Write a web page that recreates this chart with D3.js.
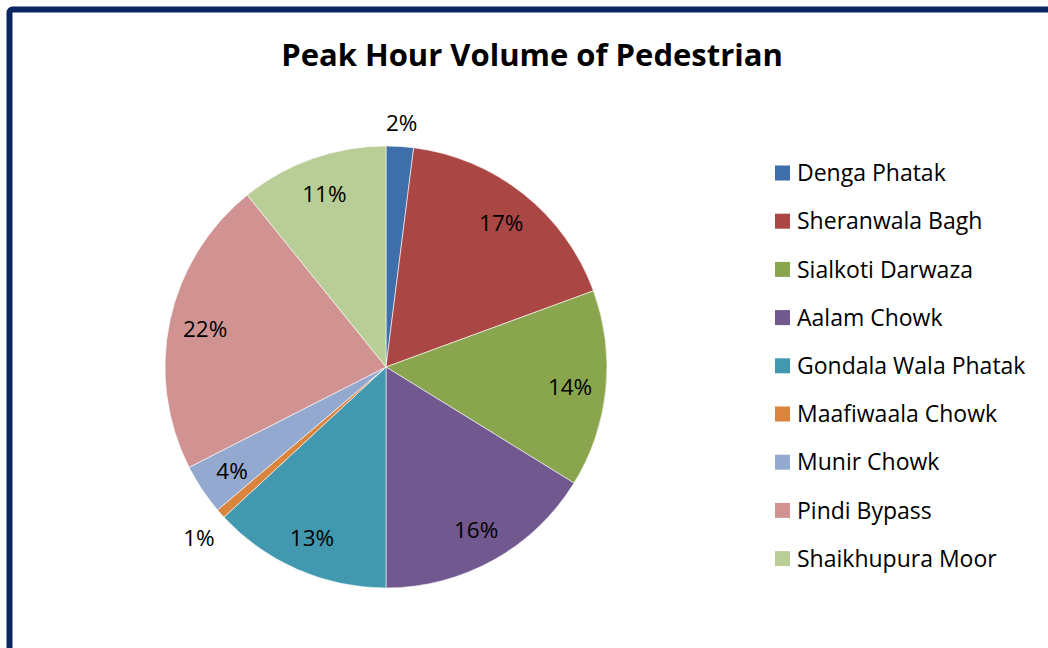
<!DOCTYPE html>
<html lang="en">
<head>
    <meta charset="UTF-8">
    <title>Peak Hour Volume of Pedestrian</title>
    <script src="https://unpkg.com/d3@7.8.5/dist/d3.min.js"></script>
    <style>
        body { margin: 0; background: #fff; }
        text { font-family: "Open Sans", "Noto Sans", sans-serif; fill: #000; }
    </style>
</head>
<body>
    <svg width="1048" height="648"></svg>
    <script>
        // data (percent share)
        var locations = ['Denga Phatak', 'Sheranwala Bagh', 'Sialkoti Darwaza', 'Aalam Chowk',
            'Gondala Wala Phatak', 'Maafiwaala Chowk', 'Munir Chowk', 'Pindi Bypass', 'Shaikhupura Moor']
        var shares = [2.0, 17.4, 14.4, 16.2, 13.1, 0.7, 3.7, 21.7, 10.8]
        var colorList = ['#3F6FAA', '#AA4643', '#89A54E', '#71588F', '#4198AF', '#DB843D', '#93A9CF', '#D19392', '#B9CD96']

        var svg = d3.select('svg')

        // outer frame (cut off at right and bottom)
        svg.append('rect')
            .attr('x', 9.5).attr('y', 9.5)
            .attr('width', 1100).attr('height', 700)
            .attr('rx', 3)
            .attr('fill', 'none')
            .attr('stroke', '#0B2560')
            .attr('stroke-width', 6)

        svg.append('text')
            .text('Peak Hour Volume of Pedestrian')
            .attr('x', 532).attr('y', 66)
            .attr('text-anchor', 'middle')
            .attr('font-size', 31)
            .attr('font-weight', 'bold')

        var radius = 221
        var g = svg.append('g').attr('transform', 'translate(386, 367)')

        var pie = d3.pie().value(v => v).sort(null)
        var colors = d3.scaleOrdinal(locations, colorList)
        var arcs = pie(shares)

        g.selectAll('path').data(arcs).enter()
            .append('path')
            .attr('d', d3.arc().innerRadius(0).outerRadius(radius))
            .attr('fill', (d, i) => colors(locations[i]))
            .attr('stroke', '#fff')
            .attr('stroke-width', 0.6)

        // labels: small slices go outside
        var inner = d3.arc().innerRadius(185).outerRadius(185)
        var outer = d3.arc().innerRadius(250).outerRadius(250)
        g.selectAll('text').data(arcs).enter()
            .append('text')
            .text(d => Math.round(d.value) + '%')
            .attr('transform', d => 'translate(' + (d.value < 2.5 ? outer : inner).centroid(d) + ')')
            .attr('text-anchor', 'middle')
            .attr('dy', d => d.value < 2.5 ? '0.6em' : '0.4em')
            .attr('font-size', 22.5)

        // legend
        var legend = svg.append('g').attr('transform', 'translate(775, 173)')
        var rows = legend.selectAll('g').data(locations).enter()
            .append('g')
            .attr('transform', (d, i) => 'translate(0,' + i * 48.2 + ')')
        rows.append('rect')
            .attr('y', -7.5)
            .attr('width', 15).attr('height', 15)
            .attr('fill', d => colors(d))
        rows.append('text')
            .text(d => d)
            .attr('x', 22)
            .attr('dy', '0.36em')
            .attr('font-size', 23)
    </script>
</body>
</html>
